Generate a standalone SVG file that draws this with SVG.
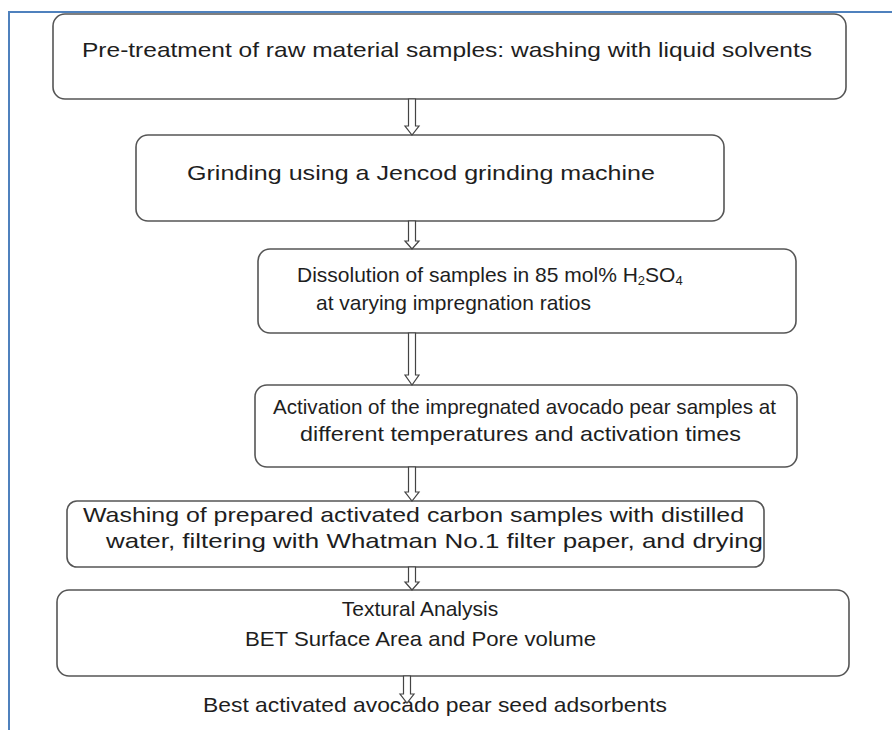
<svg xmlns="http://www.w3.org/2000/svg" width="892" height="730" viewBox="0 0 892 730">
<style>
.frame{fill:none;stroke:#4F81BD;stroke-width:2}
.box{fill:#fff;stroke:#555;stroke-width:1.6}
.t{font-family:"Liberation Sans",Arial,sans-serif;font-size:21px;fill:#1e1e1e}
.arr{fill:#fff;stroke:#444;stroke-width:1.2;stroke-linejoin:miter}
.sub{font-size:13px}
</style>
<rect width="892" height="730" fill="#fff"/>
<path class="frame" d="M9,730 L9,12 L892,12"/>
<g id="n1">
<rect class="box" x="53" y="14" width="793" height="85" rx="12"/>
<text class="t" x="82" y="57" textLength="730" lengthAdjust="spacingAndGlyphs">Pre-treatment of raw material samples: washing with liquid solvents</text>
</g>
<g id="n2">
<rect class="box" x="136" y="135" width="588" height="86" rx="12"/>
<text class="t" x="187" y="180" textLength="468" lengthAdjust="spacingAndGlyphs">Grinding using a Jencod grinding machine</text>
</g>
<g id="n3">
<rect class="box" x="258" y="249" width="538" height="84" rx="12"/>
<text class="t" x="297" y="282">Dissolution of samples in 85 mol% H<tspan class="sub" dy="3">2</tspan><tspan dy="-3">SO</tspan><tspan class="sub" dy="3">4</tspan></text>
<text class="t" x="316" y="310" textLength="275" lengthAdjust="spacingAndGlyphs">at varying impregnation ratios</text>
</g>
<g id="n4">
<rect class="box" x="255" y="385" width="542" height="82" rx="12"/>
<text class="t" x="273" y="414" textLength="503" lengthAdjust="spacingAndGlyphs">Activation of the impregnated avocado pear samples at</text>
<text class="t" x="300" y="441" textLength="441" lengthAdjust="spacingAndGlyphs">different temperatures and activation times</text>
</g>
<g id="n5">
<rect class="box" x="67" y="501" width="697" height="66" rx="10"/>
<text class="t" x="83" y="522" textLength="661" lengthAdjust="spacingAndGlyphs">Washing of prepared activated carbon samples with distilled</text>
<text class="t" x="106" y="548" textLength="657" lengthAdjust="spacingAndGlyphs">water, filtering with Whatman No.1 filter paper, and drying</text>
</g>
<g id="n6">
<rect class="box" x="57" y="590" width="792" height="86" rx="12"/>
<text class="t" x="420" y="616" text-anchor="middle">Textural Analysis</text>
<text class="t" x="245" y="646" textLength="351" lengthAdjust="spacingAndGlyphs">BET Surface Area and Pore volume</text>
</g>
<g id="n7">
<text class="t" x="203" y="712" textLength="464" lengthAdjust="spacingAndGlyphs">Best activated avocado pear seed adsorbents</text>
</g>
<g id="connectors">
<path class="arr" d="M408.5,99 L415.5,99 L415.5,126 L419,126 L412,135 L405,126 L408.5,126 Z"/>
<path class="arr" d="M408.5,221 L415.5,221 L415.5,241 L419,241 L412,249 L405,241 L408.5,241 Z"/>
<path class="arr" d="M408.5,333 L415.5,333 L415.5,375 L419,375 L412,385 L405,375 L408.5,375 Z"/>
<path class="arr" d="M408.5,467 L415.5,467 L415.5,492 L419,492 L412,501 L405,492 L408.5,492 Z"/>
<path class="arr" d="M408.5,567 L415.5,567 L415.5,582 L419,582 L412,590 L405,582 L408.5,582 Z"/>
<path class="arr" d="M403.5,676 L410.5,676 L410.5,694 L414,694 L407,703 L400,694 L403.5,694 Z"/>
</g>
</svg>
